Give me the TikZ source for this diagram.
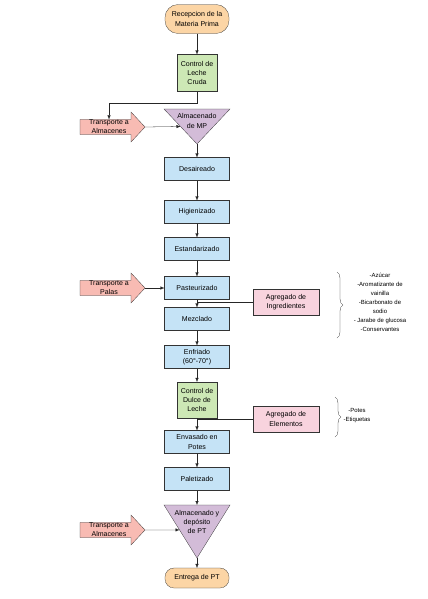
\documentclass[tikz,border=0pt]{standalone}
\usepackage{fontspec}
\setmainfont{Liberation Sans}
\usetikzlibrary{shapes.arrows,decorations.pathreplacing,arrows.meta,calc}
\definecolor{cterm}{HTML}{FCD5A5}
\definecolor{cctrl}{HTML}{CDE8B5}
\definecolor{cproc}{HTML}{C5E3F6}
\definecolor{calm}{HTML}{D3BCD8}
\definecolor{ctransp}{HTML}{F8BBB3}
\definecolor{cagr}{HTML}{F8D3DE}
\tikzset{
  txt/.style={align=center,font=\fontsize{10}{13}\selectfont},
  proc/.style={txt,draw=black!80,fill=cproc,minimum width=3.25cm,minimum height=1.15cm,inner sep=1pt},
  ctrl/.style={txt,draw=black!80,fill=cctrl,minimum width=2cm,minimum height=1.85cm,inner sep=1pt},
  term/.style={txt,draw=black!80,fill=cterm,minimum width=3.2cm,inner sep=1pt},
  agr/.style={txt,draw=black!80,fill=cagr,minimum width=3.3cm,minimum height=1.3cm,inner sep=1pt},
  transp/.style={txt,single arrow,draw=black!80,fill=ctransp,minimum height=3.25cm,
    single arrow head extend=0.375cm,single arrow tip angle=94,inner sep=0.5pt},
  tri/.style={draw=black!80,fill=calm},
  flecha/.style={-{Latex[length=2mm,width=1.6mm]},draw=black!85},
  linea/.style={draw=black!85},
  llave/.style={draw=black!85,decorate,decoration={brace,amplitude=0.3cm}},
  lista/.style={align=center,font=\fontsize{8.5}{12.8}\selectfont}
}
\begin{document}
\begin{tikzpicture}[x=1cm,y=1cm]
\useasboundingbox (0,0) rectangle (21.35,-29.95);
\node[term,minimum height=1.45cm,rounded corners=0.65cm] (inicio) at (9.85,-0.95) {Recepcion de la\\Materia Prima};
\node[ctrl] (ctrlLeche) at (9.85,-3.65) {Control de\\Leche\\Cruda};
\node[transp] (trAlm1) at (5.45,-6.35) {Transporte a\\Almacenes};
\coordinate (mpL) at (8.2,-5.45);
\coordinate (mpR) at (11.5,-5.45);
\coordinate (mpT) at (9.85,-7.2);
\draw[tri] (mpL) -- (mpR) -- (mpT) -- cycle;
\node[txt] (almMP) at (9.85,-6.05) {Almacenado\\de MP};
\coordinate (mpIn) at ($(mpL)!0.5!(mpT)$);
\node[proc] (desaireado) at (9.85,-8.45) {Desaireado};
\node[proc] (higienizado) at (9.85,-10.6) {Higienizado};
\node[proc] (estandarizado) at (9.85,-12.45) {Estandarizado};
\node[proc] (pasteurizado) at (9.85,-14.4) {Pasteurizado};
\node[transp] (trPalas) at (5.45,-14.4) {Transporte a\\Palas};
\node[agr] (agrIngr) at (14.3,-15.1) {Agregado de\\Ingredientes};
\node[proc] (mezclado) at (9.85,-15.95) {Mezclado};
\node[proc] (enfriado) at (9.85,-17.85) {Enfriado\\(60°-70°)};
\node[ctrl,minimum height=1.8cm] (ctrlDulce) at (9.85,-20.0) {Control de\\Dulce de\\Leche};
\node[agr] (agrElem) at (14.3,-20.95) {Agregado de\\Elementos};
\node[proc] (envasado) at (9.85,-22.1) {Envasado en\\Potes};
\node[proc] (paletizado) at (9.85,-23.95) {Paletizado};
\coordinate (ptL) at (8.2,-25.25);
\coordinate (ptR) at (11.5,-25.25);
\coordinate (ptT) at (9.85,-27.9);
\draw[tri] (ptL) -- (ptR) -- (ptT) -- cycle;
\node[txt] (almPT) at (9.85,-26.1) {Almacenado y\\depósito\\de PT};
\coordinate (ptTop) at (9.85,-25.25);
\coordinate (ptIn) at ($(ptL)!0.47!(ptT)$);
\node[transp] (trAlm2) at (5.45,-26.5) {Transporte a\\Almacenes};
\node[term,minimum height=1.0cm,rounded corners=0.45cm] (entrega) at (9.85,-28.9) {Entrega de PT};
\draw[flecha] (inicio) -- (ctrlLeche);
\draw[flecha] (ctrlLeche.south) -- ++(0,-0.55) -| (trAlm1.north);
\draw[flecha] (trAlm1.tip) -- (mpIn);
\draw[flecha] (mpT) -- (desaireado);
\draw[flecha] (desaireado) -- (higienizado);
\draw[flecha] (higienizado) -- (estandarizado);
\draw[flecha] (estandarizado) -- (pasteurizado);
\draw[flecha] (trPalas.tip) -- (pasteurizado);
\draw[flecha] (pasteurizado) -- (mezclado);
\draw[linea] (agrIngr.west) -- (agrIngr.west -| pasteurizado.south);
\draw[flecha] (mezclado) -- (enfriado);
\draw[flecha] (enfriado) -- (ctrlDulce);
\draw[flecha] (ctrlDulce) -- (envasado);
\draw[linea] (agrElem.west) -- (agrElem.west -| ctrlDulce.south);
\draw[flecha] (envasado) -- (paletizado);
\draw[flecha] (paletizado) -- (ptTop);
\draw[flecha] (trAlm2.tip) -- (ptIn);
\draw[flecha] (ptT) -- (entrega);
\draw[llave] (16.85,-13.6) -- (16.85,-16.9);
\node[lista] (ingredientes) at (19.0,-15.1) {-Azúcar\\-Aromatizante de\\vainilla\\-Bicarbonato de\\sodio\\- Jarabe de glucosa\\-Conservantes};
\draw[llave] (16.75,-19.85) -- (16.75,-21.85);
\node[lista] (elementos) at (17.85,-20.8) {-Potes\\-Etiquetas};
\end{tikzpicture}
\end{document}
